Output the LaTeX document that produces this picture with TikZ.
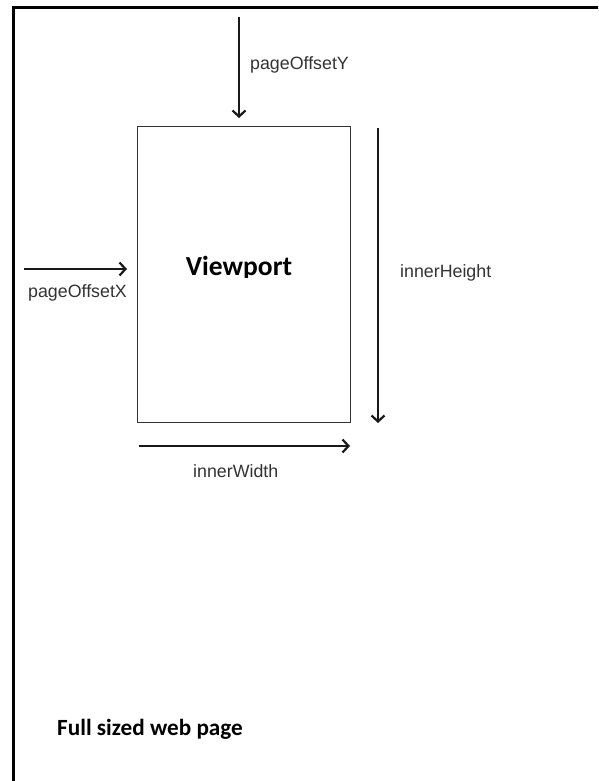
\documentclass[tikz,border=0pt]{standalone}
\usepackage{fontspec}
\setmainfont{Liberation Sans}
\newfontfamily\calfont{Carlito}
\usetikzlibrary{arrows.meta}
\tikzset{
  dimarrow/.style={line width=2.2pt, draw=black!90,
    -{Straight Barb[length=6pt,width=13pt,line width=2.2pt]}},
  lbl/.style={inner sep=0pt, anchor=base west, font=\fontsize{17.8}{20}\selectfont, text=black!80},
  heading/.style={inner sep=0pt, text=black, font=\calfont\bfseries\fontsize{#1}{#1}\selectfont},
  viewbox/.style={draw=black!80, line width=1.4pt},
}
\begin{document}
\begin{tikzpicture}[x=1pt,y=-1pt]
\useasboundingbox (0,0) rectangle (598,781);
\fill[white] (0,0) rectangle (598,781);
\begin{scope}
  \clip (0,0) rectangle (598,781);
  % page frame, running past the visible area on the right and bottom
  \draw[line width=3.5pt] (13.5,7.5) rectangle (700,900);
\end{scope}

% viewport rectangle
\node[viewbox, minimum width=213pt, minimum height=296pt, inner sep=0pt, anchor=north west] (vp) at (137,126) {};
\begin{scope}
  \clip (130,240) rectangle (345,277.5);
  \node[heading=27.5, anchor=base] (vptext) at (239,275) {Viewport};
\end{scope}

% pageOffsetY
\coordinate (oyA) at (239,17);
\coordinate (oyB) at (239,118);
\draw[dimarrow] (oyA) -- (oyB);
\node[lbl] (oy) at (250,70) {pageOffsetY};

% pageOffsetX
\coordinate (oxA) at (24,269);
\coordinate (oxB) at (127,269);
\draw[dimarrow] (oxA) -- (oxB);
\node[lbl] (ox) at (28,297) {pageOffsetX};

% innerHeight
\coordinate (ihA) at (378,128);
\coordinate (ihB) at (378,423);
\draw[dimarrow] (ihA) -- (ihB);
\node[lbl] (ih) at (400,277) {innerHeight};

% innerWidth
\coordinate (iwA) at (139,446);
\coordinate (iwB) at (350,446);
\draw[dimarrow] (iwA) -- (iwB);
\node[lbl] (iw) at (193,477) {innerWidth};

% caption
\node[heading=23.2, anchor=base west] (cap) at (57,735) {Full sized web page};
\end{tikzpicture}
\end{document}
